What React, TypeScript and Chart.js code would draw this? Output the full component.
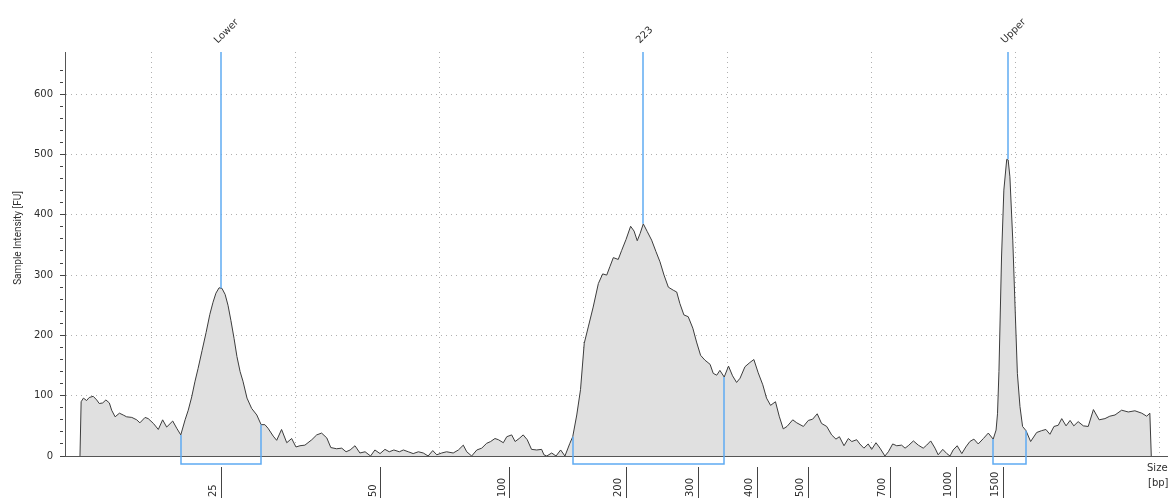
import { useEffect, useRef } from 'react';
import { Chart, registerables } from 'chart.js';

Chart.register(...registerables);

// Migration time (s) of each trace sample and its fluorescence (FU)
const migrationTime = [
  17.52, 17.56, 17.64, 17.75, 17.84, 17.98, 18.10, 18.19, 18.31, 18.42, 18.54, 18.62, 18.74, 18.89,
  19.02, 19.14, 19.32, 19.49, 19.60, 19.78, 19.89, 20.07, 20.24, 20.39, 20.53, 20.74, 20.88, 21.02,
  21.17, 21.28, 21.40, 21.51, 21.62, 21.76, 21.90, 22.03, 22.14, 22.24, 22.35, 22.45, 22.56, 22.66,
  22.76, 22.87, 22.97, 23.08, 23.18, 23.32, 23.48, 23.66, 23.81,
  23.94, 24.05, 24.23, 24.35, 24.52, 24.70, 24.87, 25.02, 25.16, 25.33, 25.57, 25.74, 25.91, 26.09,
  26.23, 26.43, 26.61, 26.76, 26.90, 27.07, 27.24, 27.42, 27.61, 27.76, 27.94, 28.11, 28.26, 28.42,
  28.61, 28.75, 28.92, 29.09, 29.27, 29.44, 29.61, 29.77, 29.91, 30.08, 30.25, 30.48, 30.66, 30.83,
  30.95, 31.12, 31.30, 31.47, 31.64, 31.78, 31.93, 32.05, 32.22, 32.34, 32.51, 32.63, 32.77, 32.91,
  33.05, 33.20, 33.38, 33.55, 33.63, 33.73, 33.90, 34.05, 34.21, 34.36, 34.53,
  34.63, 34.77, 34.90, 35.03, 35.17, 35.34, 35.52, 35.67, 35.81, 35.92, 36.04, 36.21, 36.33, 36.48,
  36.64, 36.76, 36.87, 36.97, 37.08, 37.22, 37.37, 37.52, 37.66, 37.80, 37.95, 38.12, 38.24, 38.35,
  38.49, 38.64, 38.80, 38.93, 39.07, 39.22, 39.40, 39.51, 39.63, 39.74, 39.89,
  40.04, 40.18, 40.32, 40.44, 40.61, 40.78, 40.92, 41.07, 41.23, 41.36, 41.50, 41.67, 41.80, 41.94,
  42.07, 42.27, 42.41, 42.64, 42.81, 42.96, 43.12, 43.27, 43.45, 43.62, 43.77, 43.89, 44.05, 44.20,
  44.32, 44.49, 44.60, 44.74, 44.89, 45.01, 45.16, 45.30, 45.47, 45.59, 45.74, 45.88, 46.05, 46.17,
  46.28, 46.46, 46.63, 46.80, 46.92, 47.06, 47.21, 47.32, 47.48, 47.62, 47.73, 47.84, 47.98, 48.14,
  48.28, 48.42, 48.56, 48.71, 48.89, 49.06, 49.23,
  49.33, 49.38, 49.43, 49.52, 49.60, 49.70, 49.75, 49.81, 49.91, 49.99, 50.07, 50.16, 50.25, 50.37,
  50.53, 50.74, 50.91, 51.06, 51.20, 51.34, 51.49, 51.61, 51.76, 51.90, 52.03, 52.18, 52.36, 52.53,
  52.71, 52.91, 53.11, 53.28, 53.46, 53.69, 53.92, 54.15, 54.39, 54.56, 54.67, 54.72,
];

const intensity = [
  0, 90, 96, 92, 97, 99, 93, 87, 88, 93, 88, 76, 65, 71,
  68, 65, 64, 60, 55, 64, 62, 54, 44, 60, 48, 58, 46, 35,
  60, 76, 98, 123, 145, 175, 205, 235, 255, 270, 279, 278, 268, 250,
  225, 195, 165, 140, 124, 96, 79, 68, 52,
  52, 46, 33, 26, 44, 22, 29, 15, 17, 18, 27, 35, 38, 30,
  14, 12, 13, 7, 10, 17, 5, 7, 0, 10, 4, 11, 7, 10,
  7, 10, 7, 4, 7, 5, 0, 9, 2, 5, 7, 5, 10, 18,
  7, 0, 10, 13, 21, 24, 29, 27, 22, 32, 35, 24, 29, 35,
  27, 11, 10, 11, 2, 0, 5, 0, 10, 0, 21,
  32, 68, 110, 187, 214, 247, 286, 302, 300, 314, 329, 326, 341, 359,
  381, 373, 357, 369, 385, 372, 358, 339, 322, 300, 280, 275, 272, 253,
  234, 231, 212, 189, 167, 159, 152, 137, 134, 142, 131,
  149, 133, 122, 129, 148, 155, 160, 138, 118, 96, 84, 90, 66, 45,
  49, 60, 55, 49, 59, 61, 70, 54, 49, 35, 28, 32, 17, 29,
  24, 27, 20, 13, 20, 11, 22, 13, 0, 7, 20, 17, 18, 13,
  17, 25, 18, 13, 18, 25, 13, 2, 11, 4, 0, 10, 17, 4,
  15, 24, 28, 20, 29, 38, 28,
  43, 70, 140, 330, 441, 492, 491, 463, 358, 247, 137, 82, 49, 42,
  24, 39, 42, 44, 36, 49, 51, 62, 50, 59, 50, 57, 50, 49,
  77, 60, 62, 66, 68, 76, 73, 75, 71, 66, 71, 0,
];

// Ladder calibration: fragment size labels and the times they elute at
const sizeLabels = ['25', '50', '100', '200', '300', '400', '500', '700', '1000', '1500'];
const sizeTickTimes = [22.42, 27.97, 32.45, 36.48, 39.01, 41.03, 42.8, 45.65, 47.94, 49.6];

// Time grid (s)
const gridTimes = [20, 25, 30, 35, 40, 45, 50, 55];

// Called peaks
const markerNames = ['Lower', '223', 'Upper'];
const markerTimes = [22.42, 37.06, 49.74];
const markerHeights = [278, 385, 492];

// Integrated peak regions (start/end time and trace level at each edge)
const regionStart = [21.02, 34.63, 49.23];
const regionEnd = [23.81, 39.89, 50.37];
const regionStartLevel = [35, 32, 28];
const regionEndLevel = [52, 131, 42];

const TIME_MIN = 17;
const TIME_MAX = 55.3;
const FU_MAX = 670;

const MARKER_BLUE = '#5fabf2';
const TEXT = '#2e2e2e';
const FONT = '10px "DejaVu Sans", sans-serif';

export default function App() {
  const canvasRef = useRef<HTMLCanvasElement>(null);

  useEffect(() => {
    const canvas = canvasRef.current;
    if (!canvas) return;

    Chart.defaults.font.family = '"DejaVu Sans", sans-serif';
    Chart.defaults.font.size = 10;

    const trace = migrationTime.map((t, i) => ({ x: t, y: intensity[i] }));

    const overlay = {
      id: 'peakOverlay',
      afterDatasetsDraw(chart: any) {
        const { ctx, chartArea } = chart;
        const xs = chart.scales.x;
        const ys = chart.scales.y;
        const bracketY = chartArea.bottom + 8;
        ctx.save();

        // region brackets
        ctx.strokeStyle = MARKER_BLUE;
        ctx.lineWidth = 1.5;
        for (let i = 0; i < regionStart.length; i++) {
          const x0 = Math.round(xs.getPixelForValue(regionStart[i]));
          const x1 = Math.round(xs.getPixelForValue(regionEnd[i]));
          ctx.beginPath();
          ctx.moveTo(x0, ys.getPixelForValue(regionStartLevel[i]));
          ctx.lineTo(x0, bracketY);
          ctx.lineTo(x1, bracketY);
          ctx.lineTo(x1, ys.getPixelForValue(regionEndLevel[i]));
          ctx.stroke();
        }

        // peak markers and their labels
        ctx.lineWidth = 1.5;
        ctx.font = FONT;
        ctx.fillStyle = TEXT;
        ctx.textAlign = 'left';
        ctx.textBaseline = 'middle';
        for (let i = 0; i < markerTimes.length; i++) {
          const px = Math.round(xs.getPixelForValue(markerTimes[i]));
          ctx.beginPath();
          ctx.moveTo(px, chartArea.top);
          ctx.lineTo(px, ys.getPixelForValue(markerHeights[i]));
          ctx.stroke();
          ctx.save();
          ctx.translate(px - 5, 42);
          ctx.rotate(-Math.PI / 4);
          ctx.fillText(markerNames[i], 0, 0);
          ctx.restore();
        }
        ctx.restore();
      },
      afterDraw(chart: any) {
        const { ctx, chartArea } = chart;
        const sizeScale = chart.scales.size;

        // fragment size labels, reading upward beside each ladder tick
        ctx.save();
        ctx.fillStyle = TEXT;
        ctx.font = FONT;
        ctx.textAlign = 'left';
        ctx.textBaseline = 'middle';
        for (let i = 0; i < sizeTickTimes.length; i++) {
          const px = sizeScale.getPixelForValue(sizeTickTimes[i]);
          ctx.save();
          ctx.translate(px - 8, chart.height - 1);
          ctx.rotate(-Math.PI / 2);
          ctx.fillText(sizeLabels[i], 0, 0);
          ctx.restore();
        }
        ctx.restore();

        // y axis title
        ctx.save();
        ctx.fillStyle = TEXT;
        ctx.font = '10px Roboto, sans-serif';
        ctx.textAlign = 'center';
        ctx.textBaseline = 'middle';
        ctx.translate(18, 238);
        ctx.rotate(-Math.PI / 2);
        ctx.fillText('Sample Intensity [FU]', 0, 0);
        ctx.restore();

        // x axis unit caption
        ctx.save();
        ctx.fillStyle = TEXT;
        ctx.font = FONT;
        ctx.textAlign = 'left';
        ctx.textBaseline = 'middle';
        ctx.fillText('Size', chartArea.right - 21, chartArea.bottom + 12);
        ctx.fillText('[bp]', chartArea.right - 20, chartArea.bottom + 27);
        ctx.restore();
      },
    };

    const chart = new Chart(canvas, {
      type: 'line',
      data: {
        datasets: [
          {
            data: trace,
            borderColor: '#3c3c3c',
            borderWidth: 1,
            backgroundColor: '#e0e0e0',
            fill: 'origin',
            pointRadius: 0,
            tension: 0,
          },
        ],
      },
      options: {
        animation: false,
        responsive: true,
        maintainAspectRatio: false,
        layout: { padding: { top: 52, left: 0, right: 0, bottom: 0 } },
        plugins: {
          legend: { display: false },
          tooltip: { enabled: false },
        },
        scales: {
          x: {
            type: 'linear',
            position: 'bottom',
            weight: 0,
            min: TIME_MIN,
            max: TIME_MAX,
            afterBuildTicks: (s: any) => {
              s.ticks = gridTimes.map((v) => ({ value: v }));
            },
            afterFit: (s: any) => {
              s.height = 11;
            },
            ticks: { display: false },
            grid: { color: '#b0b0b0', lineWidth: 1, drawTicks: false },
            border: { display: true, color: '#555555', width: 1, dash: [1, 4] },
          },
          size: {
            type: 'linear',
            position: 'bottom',
            weight: 1,
            min: TIME_MIN,
            max: TIME_MAX,
            afterBuildTicks: (s: any) => {
              s.ticks = sizeTickTimes.map((v) => ({ value: v }));
            },
            afterFit: (s: any) => {
              s.height = 31;
            },
            ticks: { display: false, autoSkip: false },
            grid: {
              drawOnChartArea: false,
              drawTicks: true,
              tickLength: 31,
              tickColor: '#444444',
              tickWidth: 1,
            },
            border: { display: false },
          },
          y: {
            min: 0,
            max: FU_MAX,
            afterFit: (s: any) => {
              s.width = 65;
            },
            ticks: {
              stepSize: 20,
              autoSkip: false,
              padding: 7,
              color: TEXT,
              font: { size: 10 },
              callback: (v: any) => (Number(v) % 100 === 0 ? String(v) : ''),
            },
            grid: {
              color: (c: any) =>
                c.tick && c.tick.value > 0 && c.tick.value % 100 === 0 ? '#b0b0b0' : 'rgba(0,0,0,0)',
              tickColor: (c: any) =>
                c.tick && c.tick.value % 20 === 0 ? '#444444' : 'rgba(0,0,0,0)',
              tickLength: 5,
              tickBorderDash: (c: any) => (c.tick && c.tick.value % 100 === 0 ? [] : [3, 10]),
            },
            border: { display: true, color: '#555555', width: 1, dash: [1, 4] },
          },
        },
      } as any,
      plugins: [overlay],
    });

    return () => chart.destroy();
  }, []);

  return (
    <div style={{ position: 'absolute', left: 0, top: 0, width: 1168, height: 498, background: '#ffffff' }}>
      <canvas ref={canvasRef} />
    </div>
  );
}
